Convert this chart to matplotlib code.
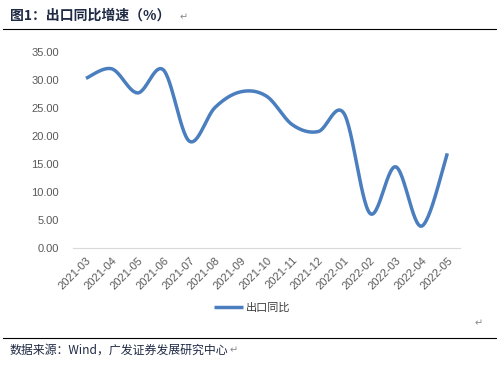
import numpy as np
import matplotlib
matplotlib.use("Agg")
import matplotlib.pyplot as plt

plt.rcParams['font.family'] = ['Noto Sans CJK SC', 'DejaVu Sans']

months = ['2021-03', '2021-04', '2021-05', '2021-06', '2021-07', '2021-08',
          '2021-09', '2021-10', '2021-11', '2021-12', '2022-01', '2022-02',
          '2022-03', '2022-04', '2022-05']
export_yoy = [30.3, 32.0, 27.7, 31.8, 19.1, 25.1, 27.9, 27.1, 22.0, 20.8,
              24.0, 6.2, 14.5, 3.9, 16.9]
yticks = [0, 5, 10, 15, 20, 25, 30, 35]


def smooth(x, y, n=30):
    # excel-like smoothed line: cubic bezier with catmull-rom control points
    x = np.asarray(x, float)
    y = np.asarray(y, float)
    px = np.concatenate([[x[0]], x, [x[-1]]])
    py = np.concatenate([[y[0]], y, [y[-1]]])
    t = np.linspace(0, 1, n)[:, None]
    xs, ys = [], []
    for i in range(len(x) - 1):
        p0 = np.array([px[i + 1], py[i + 1]])
        p3 = np.array([px[i + 2], py[i + 2]])
        p1 = p0 + (np.array([px[i + 2], py[i + 2]]) - np.array([px[i], py[i]])) / 6
        p2 = p3 - (np.array([px[i + 3], py[i + 3]]) - np.array([px[i + 1], py[i + 1]])) / 6
        pts = ((1 - t) ** 3) * p0 + 3 * ((1 - t) ** 2) * t * p1 + 3 * (1 - t) * t ** 2 * p2 + t ** 3 * p3
        xs.append(pts[:, 0])
        ys.append(pts[:, 1])
    return np.concatenate(xs), np.concatenate(ys)


fig = plt.figure(figsize=(4.97, 3.70), dpi=100)
ax = fig.add_axes([0.147, 0.3297, 0.779, 0.5297])

xi = np.arange(len(months))
sx, sy = smooth(xi, export_yoy)
ax.plot(sx, sy, color='#4a7ebf', lw=2.5, solid_capstyle='butt', label='出口同比')

ax.set_xlim(-0.5, len(months) - 0.5)
ax.set_ylim(0, 35)
ax.set_yticks(yticks)
ax.set_yticklabels(['%.2f' % v for v in yticks])
ax.set_xticks(xi)
ax.set_xticklabels(months, rotation=45, ha='right', rotation_mode='anchor')
ax.tick_params(axis='x', length=0, labelsize=8, colors='#595959', pad=5)
ax.tick_params(axis='y', length=0, labelsize=8, colors='#595959', pad=10)
for lab in ax.get_yticklabels() + ax.get_xticklabels():
    lab.set_family(['Liberation Sans', 'DejaVu Sans'])
for s in ['top', 'right', 'left']:
    ax.spines[s].set_visible(False)
ax.spines['bottom'].set_color('#d9d9d9')
ax.spines['bottom'].set_linewidth(0.8)

leg = fig.legend(loc='center', bbox_to_anchor=(252 / 497, 1 - 308 / 370), frameon=False,
                 fontsize=8, handlelength=2.6, handletextpad=0.3)
for t in leg.get_texts():
    t.set_color('#404040')

fig.text(10 / 497, 1 - 16 / 370, '图1：出口同比增速（%）', fontsize=10, fontweight='bold',
         color='#1f2a44', va='center', ha='left')
fig.text(180 / 497, 1 - 17 / 370, '↵', fontsize=7, color='#888888', va='center', family='DejaVu Sans')
fig.add_artist(plt.Line2D([3 / 497, 1], [1 - 29 / 370] * 2, color='black', lw=0.8))
fig.text(475 / 497, 1 - 323 / 370, '↵', fontsize=7, color='#888888', va='center', family='DejaVu Sans')
fig.add_artist(plt.Line2D([3 / 497, 1], [1 - 338 / 370] * 2, color='black', lw=0.8))
fig.text(10 / 497, 1 - 350 / 370, '数据来源：Wind，广发证券发展研究中心', fontsize=8.6,
         color='#1f2a44', va='center', ha='left')
fig.text(230 / 497, 1 - 350 / 370, '↵', fontsize=7, color='#888888', va='center', family='DejaVu Sans')

fig.savefig('out.png', dpi=100)
